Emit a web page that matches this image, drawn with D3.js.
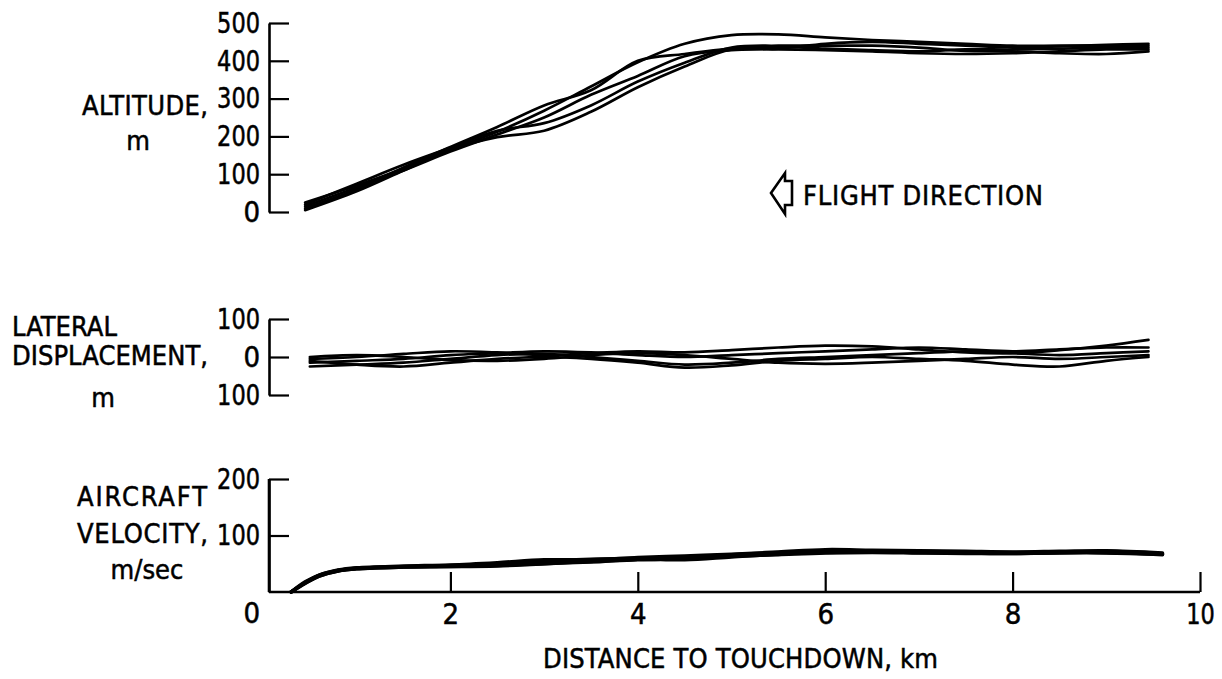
<!DOCTYPE html>
<html><head><meta charset="utf-8">
<script src="https://cdn.jsdelivr.net/npm/d3@7"></script>
<style>body{margin:0;background:#fff}</style>
</head><body>
<svg id="c" width="1222" height="679"></svg>
<script>
// ---------- DATA ----------
const xTicks = [2, 4, 6, 8, 10];
const altTicks = [0, 100, 200, 300, 400, 500];
const latTicks = [-100, 0, 100];
const velTicks = [100, 200];

const altDist = [0.45, 1, 1.5, 2, 2.5, 3, 3.5, 4, 4.5, 5, 5.5, 6, 6.5, 7, 7.5, 8, 8.5, 9, 9.45];
const altRun1 = [25, 70, 115, 165, 212, 268, 332, 396, 445, 468, 470, 462, 455, 450, 445, 440, 440, 440, 440];
const altRun2 = [15, 65, 110, 160, 205, 250, 310, 360, 412, 428, 432, 445, 450, 445, 440, 436, 438, 442, 445];
const altRun3 = [5, 55, 110, 165, 198, 215, 265, 330, 385, 430, 430, 428, 425, 420, 418, 420, 425, 430, 430];
const altRun4 = [20, 75, 125, 170, 215, 235, 282, 345, 395, 435, 440, 440, 440, 435, 426, 425, 420, 418, 425];
const altRun5 = [10, 60, 118, 172, 225, 282, 322, 400, 418, 432, 437, 432, 428, 425, 430, 430, 432, 435, 435];

const latDist = [0.5, 1, 1.5, 2, 2.5, 3, 3.5, 4, 4.5, 5, 5.5, 6, 6.5, 7, 7.5, 8, 8.5, 9, 9.45];
const latRun1 = [-5, 0, 8, 15, 12, 5, 10, 15, 12, 18, 25, 30, 28, 20, 12, 10, 18, 30, 45];
const latRun2 = [-15, -10, -5, 5, 10, 15, 12, 5, 0, 5, 10, 15, 20, 25, 20, 15, 20, 25, 25];
const latRun3 = [-25, -20, -15, -5, 5, 8, 0, -10, -20, -15, -5, 0, 5, 10, 15, 10, 5, 10, 15];
const latRun4 = [-10, -20, -25, -15, -5, 0, -5, -15, -28, -22, -10, -5, 0, -5, -10, -20, -25, -10, 0];
const latRun5 = [0, 5, 0, -8, -10, -5, 5, 10, 5, -5, -15, -18, -15, -10, -5, 0, -5, 0, 5];

const velDist = [0.3, 0.45, 0.6, 0.8, 1.0, 1.5, 2, 2.5, 3, 3.5, 4, 4.5, 5, 5.5, 6, 6.5, 7, 7.5, 8, 8.5, 9, 9.6];
const velRun1 = [0, 18, 30, 38, 42, 45, 47, 50, 55, 58, 60, 62, 66, 70, 73, 73, 72, 71, 70, 71, 72, 68];
const velRun2 = [0, 15, 28, 37, 41, 44, 46, 48, 52, 55, 58, 60, 64, 68, 71, 71, 70, 70, 69, 70, 70, 67];
const velRun3 = [0, 16, 29, 38, 42, 45, 45, 46, 50, 53, 57, 59, 63, 66, 69, 70, 69, 68, 68, 69, 69, 66];
const velRun4 = [0, 17, 30, 39, 43, 46, 48, 52, 57, 57, 61, 64, 67, 71, 75, 74, 73, 72, 71, 72, 73, 69];
const velRun5 = [0, 16, 28, 37, 41, 44, 45, 47, 50, 54, 58, 57, 62, 67, 70, 71, 70, 69, 68, 70, 70, 67];

// ---------- DRAW ----------
const FONT = "'Liberation Sans Narrow','DejaVu Sans Condensed','Liberation Sans',sans-serif";
const svg = d3.select("#c");
svg.append("rect").attr("width", 1222).attr("height", 679).attr("fill", "#fff");

const AX = 269;
const x = d3.scaleLinear().domain([0, 10]).range([263, 1200]);
const yAlt = d3.scaleLinear().domain([0, 500]).range([212, 23]);
const yLat = d3.scaleLinear().domain([-100, 100]).range([395, 319]);
const yVel = d3.scaleLinear().domain([0, 200]).range([592, 479]);

function fitText(sel) {
  sel.each(function () {
    const n = this.textContent.length;
    if (n >= 2) d3.select(this).attr("textLength", n * 14.3).attr("lengthAdjust", "spacingAndGlyphs");
  });
}

function styleAxis(g) {
  g.selectAll("path.domain").attr("stroke", "#000").attr("stroke-width", 2.6);
  g.selectAll(".tick line").attr("stroke", "#000").attr("stroke-width", 2.2);
  g.selectAll(".tick text").attr("font-family", FONT).attr("font-size", 29).attr("fill", "#000")
    .attr("stroke", "#000").attr("stroke-width", 0.5).call(fitText);
}

function yAxis(scale, ticks, fmt) {
  const g = svg.append("g").attr("transform", `translate(${AX},0)`)
    .call(d3.axisLeft(scale).tickValues(ticks).tickFormat(fmt)
      .tickSizeInner(-20).tickSizeOuter(0).tickPadding(9));
  styleAxis(g);
  return g;
}
yAxis(yAlt, altTicks, d => d);
yAxis(yLat, latTicks, d => Math.abs(d));
yAxis(yVel, velTicks, d => d);

// velocity y axis extends down to baseline
svg.append("line").attr("x1", AX).attr("x2", AX).attr("y1", yVel(200)).attr("y2", yVel(0))
  .attr("stroke", "#000").attr("stroke-width", 2.6);

// x axis
const gx = svg.append("g").attr("transform", `translate(0,${yVel(0)})`)
  .call(d3.axisBottom(x).tickValues(xTicks).tickSizeInner(-20).tickSizeOuter(0).tickPadding(11));
gx.select("path.domain").remove();
styleAxis(gx);
svg.append("line").attr("x1", AX).attr("x2", x(10)).attr("y1", yVel(0)).attr("y2", yVel(0))
  .attr("stroke", "#000").attr("stroke-width", 2.6);
svg.append("text").attr("x", 260).attr("y", 623).attr("text-anchor", "end")
  .attr("font-family", FONT).attr("font-size", 29).attr("stroke", "#000").attr("stroke-width", 0.5).text("0");

// lines
function drawRuns(dist, runs, yScale, w) {
  const line = d3.line().x((d, i) => x(dist[i])).y(d => yScale(d)).curve(d3.curveCatmullRom);
  runs.forEach(r => svg.append("path").attr("d", line(r)).attr("fill", "none")
    .attr("stroke", "#000").attr("stroke-width", w).attr("stroke-linejoin", "round").attr("stroke-linecap", "round"));
}
drawRuns(altDist, [altRun1, altRun2, altRun3, altRun4, altRun5], yAlt, 2.7);
drawRuns(latDist, [latRun1, latRun2, latRun3, latRun4, latRun5], yLat, 2.7);
drawRuns(velDist, [velRun1, velRun2, velRun3, velRun4, velRun5], yVel, 3.4);

// labels
function label(txt, xx, yy, len, anchor) {
  const t = svg.append("text").attr("x", xx).attr("y", yy).attr("font-family", FONT)
    .attr("font-size", 27).attr("fill", "#000").attr("stroke", "#000").attr("stroke-width", 0.5)
    .attr("text-anchor", anchor || "start").text(txt);
  if (len) t.attr("textLength", len).attr("lengthAdjust", "spacing");
  return t;
}
label("ALTITUDE,", 82, 115, 126);
label("m", 138, 150, null, "middle");
label("LATERAL", 12, 336, 105);
label("DISPLACEMENT,", 12, 365, 196);
label("m", 103, 407, null, "middle");
label("AIRCRAFT", 77, 506, 130);
label("VELOCITY,", 77, 543, 131);
label("m/sec", 147, 579, null, "middle");
label("DISTANCE TO TOUCHDOWN, km", 543, 668, 395);
label("FLIGHT DIRECTION", 803, 205, 240);

// flight direction arrow
const arrow = [[771, 193], [785, 173], [785, 181], [792, 181], [792, 205], [785, 205], [785, 214]];
svg.append("path").attr("d", d3.line()(arrow) + "Z").attr("fill", "none")
  .attr("stroke", "#000").attr("stroke-width", 2.6).attr("stroke-linejoin", "miter");
</script>
</body></html>
